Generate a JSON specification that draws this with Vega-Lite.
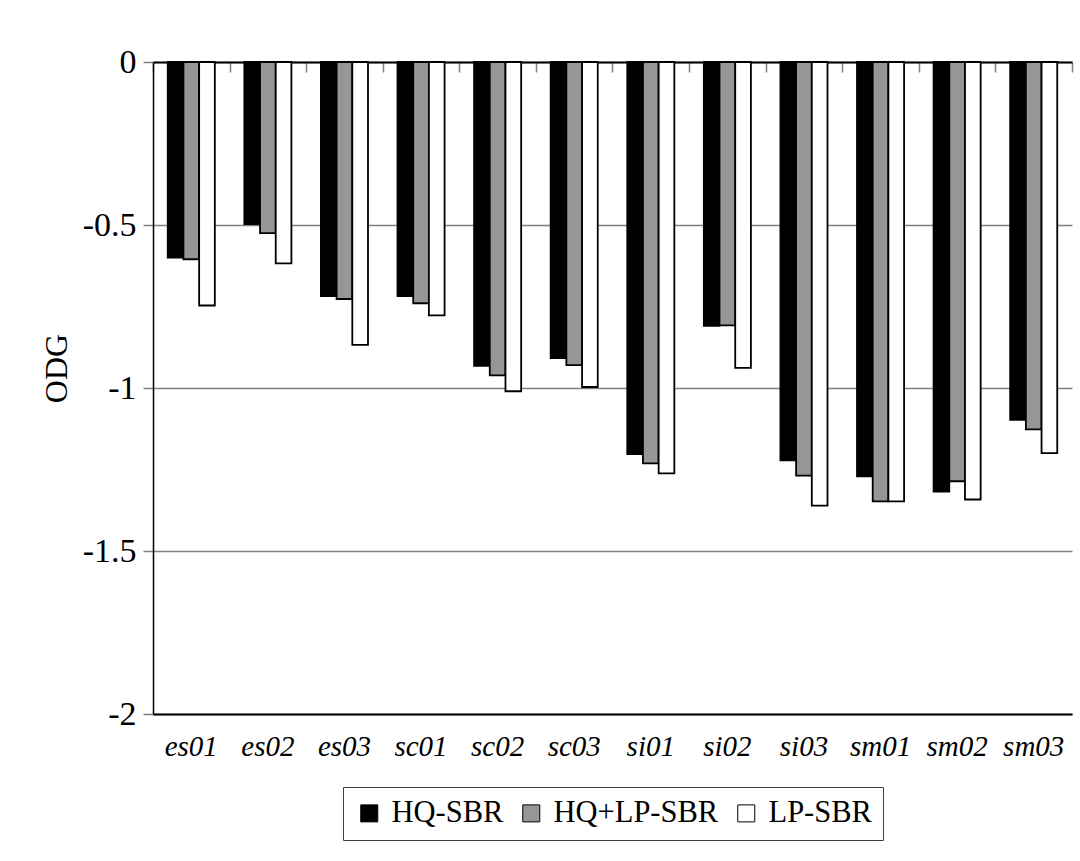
{
  "$schema": "https://vega.github.io/schema/vega-lite/v6.json",
  "autosize": {"type": "none"},
  "padding": {"left": 153, "top": 62, "right": 8, "bottom": 147},
  "width": 919,
  "height": 652,
  "background": "white",
  "config": {
    "font": "Liberation Serif",
    "view": {"stroke": null},
    "axis": {"labelFont": "Liberation Serif", "titleFont": "Liberation Serif", "labelColor": "black", "titleColor": "black"}
  },
  "data": {
    "values": [
      {"clip": "es01", "method": "HQ-SBR", "odg": -0.600},
      {"clip": "es01", "method": "HQ+LP-SBR", "odg": -0.605},
      {"clip": "es01", "method": "LP-SBR", "odg": -0.747},
      {"clip": "es02", "method": "HQ-SBR", "odg": -0.497},
      {"clip": "es02", "method": "HQ+LP-SBR", "odg": -0.525},
      {"clip": "es02", "method": "LP-SBR", "odg": -0.618},
      {"clip": "es03", "method": "HQ-SBR", "odg": -0.718},
      {"clip": "es03", "method": "HQ+LP-SBR", "odg": -0.727},
      {"clip": "es03", "method": "LP-SBR", "odg": -0.868},
      {"clip": "sc01", "method": "HQ-SBR", "odg": -0.718},
      {"clip": "sc01", "method": "HQ+LP-SBR", "odg": -0.740},
      {"clip": "sc01", "method": "LP-SBR", "odg": -0.777},
      {"clip": "sc02", "method": "HQ-SBR", "odg": -0.932},
      {"clip": "sc02", "method": "HQ+LP-SBR", "odg": -0.961},
      {"clip": "sc02", "method": "LP-SBR", "odg": -1.010},
      {"clip": "sc03", "method": "HQ-SBR", "odg": -0.908},
      {"clip": "sc03", "method": "HQ+LP-SBR", "odg": -0.930},
      {"clip": "sc03", "method": "LP-SBR", "odg": -0.997},
      {"clip": "si01", "method": "HQ-SBR", "odg": -1.203},
      {"clip": "si01", "method": "HQ+LP-SBR", "odg": -1.231},
      {"clip": "si01", "method": "LP-SBR", "odg": -1.262},
      {"clip": "si02", "method": "HQ-SBR", "odg": -0.809},
      {"clip": "si02", "method": "HQ+LP-SBR", "odg": -0.808},
      {"clip": "si02", "method": "LP-SBR", "odg": -0.938},
      {"clip": "si03", "method": "HQ-SBR", "odg": -1.222},
      {"clip": "si03", "method": "HQ+LP-SBR", "odg": -1.269},
      {"clip": "si03", "method": "LP-SBR", "odg": -1.361},
      {"clip": "sm01", "method": "HQ-SBR", "odg": -1.271},
      {"clip": "sm01", "method": "HQ+LP-SBR", "odg": -1.348},
      {"clip": "sm01", "method": "LP-SBR", "odg": -1.348},
      {"clip": "sm02", "method": "HQ-SBR", "odg": -1.318},
      {"clip": "sm02", "method": "HQ+LP-SBR", "odg": -1.286},
      {"clip": "sm02", "method": "LP-SBR", "odg": -1.342},
      {"clip": "sm03", "method": "HQ-SBR", "odg": -1.098},
      {"clip": "sm03", "method": "HQ+LP-SBR", "odg": -1.127},
      {"clip": "sm03", "method": "LP-SBR", "odg": -1.200}
    ]
  },
  "resolve": {"axis": {"x": "independent"}},
  "layer": [
    {
      "mark": {"type": "bar", "stroke": "black", "strokeWidth": 1.8},
      "encoding": {
        "x": {
          "field": "clip", "type": "nominal", "sort": null,
          "scale": {"paddingInner": 0, "paddingOuter": 0},
          "axis": {
            "orient": "bottom", "title": null, "labelAngle": 0,
            "labelFontSize": 29, "labelFontStyle": "italic", "labelPadding": 18,
            "ticks": false, "domain": true, "domainColor": "black", "domainWidth": 2
          }
        },
        "xOffset": {
          "field": "method", "type": "nominal", "sort": ["HQ-SBR", "HQ+LP-SBR", "LP-SBR"],
          "scale": {"paddingInner": 0, "paddingOuter": 0.94}
        },
        "y": {
          "field": "odg", "type": "quantitative",
          "scale": {"domain": [-2, 0], "nice": false, "zero": true},
          "axis": {
            "title": "ODG", "titleFontSize": 32, "titleFontWeight": "normal",
            "titlePadding": 9, "titleY": 306,
            "values": [-2, -1.5, -1, -0.5, 0],
            "labelExpr": "datum.value == 0 ? '0' : '-' + format(-datum.value, '~g')",
            "labelFontSize": 34, "labelPadding": 7,
            "tickSize": 10, "tickColor": "#808080", "tickWidth": 1.5,
            "domainColor": "black", "domainWidth": 1.5,
            "grid": true, "gridColor": "#808080", "gridWidth": 1.5
          }
        },
        "fill": {
          "field": "method", "type": "nominal",
          "sort": ["HQ-SBR", "HQ+LP-SBR", "LP-SBR"],
          "scale": {"domain": ["HQ-SBR", "HQ+LP-SBR", "LP-SBR"], "range": ["#000000", "#969696", "#ffffff"]},
          "legend": {
            "title": null, "orient": "none", "legendX": 190, "legendY": 725,
            "direction": "horizontal", "columns": 3,
            "labelFont": "Liberation Serif", "labelFontSize": 30.5, "labelColor": "black",
            "labelLimit": 500,
            "symbolType": "square", "symbolSize": 289, "symbolStrokeColor": "black", "symbolStrokeWidth": 1,
            "symbolOpacity": 1,
            "labelOffset": 7, "columnPadding": 12,
            "strokeColor": "#404040", "padding": 11
          }
        }
      }
    },
    {
      "mark": {"type": "point", "opacity": 0},
      "encoding": {
        "x": {
          "field": "clip", "type": "nominal", "sort": null,
          "axis": {
            "orient": "top", "title": null, "labels": false,
            "ticks": true, "tickBand": "extent", "tickSize": -10, "tickColor": "#808080", "tickWidth": 1.5,
            "domain": true, "domainColor": "black", "domainWidth": 2, "grid": false
          }
        }
      }
    }
  ]
}
